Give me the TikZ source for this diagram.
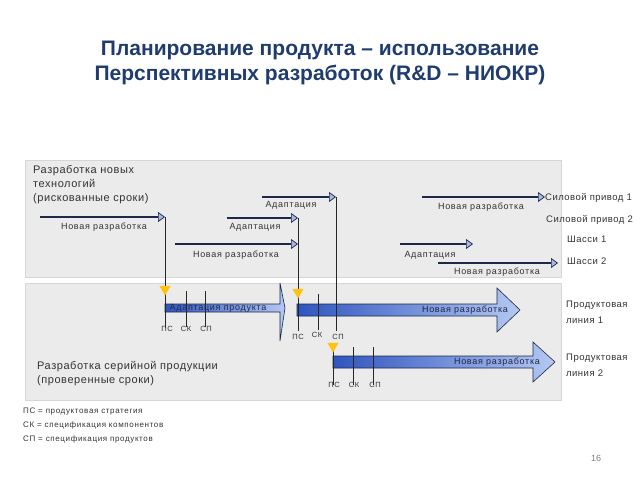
\documentclass[tikz,border=0pt]{standalone}
\usepackage{fontspec}
\setmainfont{Liberation Sans}
\newfontfamily\widefont[LetterSpace=8]{Liberation Sans}
\newfontfamily\sidefont[LetterSpace=5]{Liberation Sans}
\usetikzlibrary{arrows.meta,positioning,shapes}
\definecolor{titleblue}{HTML}{1F3C6E}
\definecolor{panelgray}{HTML}{EBEBEB}
\definecolor{panelline}{HTML}{D6D6D6}
\definecolor{navy}{HTML}{1E2848}
\definecolor{tipblue}{HTML}{A8B8E0}
\definecolor{bardark}{HTML}{2F55C0}
\definecolor{barlight}{HTML}{B4C8F2}
\definecolor{markyellow}{HTML}{FFC20E}

\begin{document}
\begin{tikzpicture}[x=1pt,y=-1pt,
  panel/.style={fill=panelgray,draw=panelline,line width=0.6pt},
  panel text/.style={font=\sidefont\fontsize{11}{14}\selectfont,text=black!80,align=left,anchor=north west,inner sep=0pt},
  dev arrow/.style={draw=navy,line width=2.4pt,-{Triangle[length=7pt,width=10pt,fill=tipblue,line width=0.7pt]}},
  dev label/.style={font=\widefont\fontsize{9}{10}\selectfont,text=black!80,inner sep=0pt},
  side label/.style={font=\sidefont\fontsize{9.5}{16}\selectfont,text=black!80,anchor=west,align=left,inner sep=0pt},
  tick/.style={draw=black!85,line width=1pt},
  tick label/.style={font=\widefont\fontsize{7.5}{8}\selectfont,text=black!80,anchor=north,inner sep=0pt},
  ps mark/.style={regular polygon,regular polygon sides=3,shape border rotate=180,fill=markyellow,minimum size=13pt,inner sep=0pt},
  blue arrow/.style={left color=bardark,right color=barlight,draw=navy,line width=0.6pt},
  bar label/.style={font=\widefont\fontsize{9}{10}\selectfont,text=navy,inner sep=0pt}]
\useasboundingbox (0,0) rectangle (640,480);

% title
\node[font=\fontsize{21}{25}\selectfont\bfseries,text=titleblue,align=center] (title) at (320,63)
  {Планирование продукта – использование\\Перспективных разработок (R\&D – НИОКР)};

% panels
\draw[panel] (25,160) rectangle (561,277);
\draw[panel] (25,283) rectangle (561,400);
\node[panel text] (techtext) at (33,165) {Разработка новых\\технологий\\(рискованные сроки)};
\node[panel text] (serialtext) at (37,361) {Разработка серийной продукции\\(проверенные сроки)};

% development arrows
\coordinate (a1) at (40,217);  \coordinate (a2) at (165,217);
\coordinate (b1) at (262,197); \coordinate (b2) at (336,197);
\coordinate (c1) at (227,218); \coordinate (c2) at (298,218);
\coordinate (d1) at (175,244); \coordinate (d2) at (298,244);
\coordinate (e1) at (422,197); \coordinate (e2) at (545,197);
\coordinate (f1) at (400,244); \coordinate (f2) at (473,244);
\coordinate (g1) at (438,263); \coordinate (g2) at (558,263);
\draw[dev arrow] (a1) -- (a2);
\draw[dev arrow] (b1) -- (b2);
\draw[dev arrow] (c1) -- (c2);
\draw[dev arrow] (d1) -- (d2);
\draw[dev arrow] (e1) -- (e2);
\draw[dev arrow] (f1) -- (f2);
\draw[dev arrow] (g1) -- (g2);
\node[dev label] (la) at (104,227) {Новая разработка};
\node[dev label] (lb) at (291,205) {Адаптация};
\node[dev label] (lc) at (255,227) {Адаптация};
\node[dev label] (ld) at (236,255) {Новая разработка};
\node[dev label] (le) at (481,207) {Новая разработка};
\node[dev label] (lf) at (430,255) {Адаптация};
\node[dev label] (lg) at (497,272) {Новая разработка};

\node[side label] (drive1) at (545,198) {Силовой привод 1};
\node[side label] (drive2) at (546,220) {Силовой привод 2};
\node[side label] (chassis1) at (567,239) {Шасси 1};
\node[side label] (chassis2) at (567,261) {Шасси 2};
\node[side label] (line1) at (566,312) {Продуктовая\\линия 1};
\node[side label] (line2) at (566,365) {Продуктовая\\линия 2};

% product arrows
\shade[blue arrow] (165,304) -- (280,304) -- (280,283) -- (285,308) -- (280,341) -- (280,312) -- (165,312) -- cycle;
\shade[blue arrow] (297,304) -- (497,304) -- (497,288) -- (520,310) -- (497,332) -- (497,316) -- (297,316) -- cycle;
\shade[blue arrow] (333,356) -- (533,356) -- (533,342) -- (555,362) -- (533,382) -- (533,368) -- (333,368) -- cycle;
\node[bar label] (p1) at (218,308) {Адаптация продукта};
\node[bar label] (p2) at (465,310) {Новая разработка};
\node[bar label] (p3) at (497,362) {Новая разработка};

% milestones
\coordinate (ps1) at (165,328); \coordinate (sk1a) at (186,291); \coordinate (sk1) at (186,327);
\coordinate (sp1a) at (205,291); \coordinate (sp1) at (205,327);
\coordinate (ps2) at (298,331); \coordinate (sk2a) at (318,294); \coordinate (sk2) at (318,330);
\coordinate (sp2) at (336,331);
\coordinate (ps3a) at (333,347); \coordinate (ps3) at (333,385);
\coordinate (sk3a) at (353,347); \coordinate (sk3) at (353,385);
\coordinate (sp3a) at (373,347); \coordinate (sp3) at (373,385);
\draw[tick] (a2) -- (ps1);
\draw[tick] (sk1a) -- (sk1);
\draw[tick] (sp1a) -- (sp1);
\draw[tick] (c2) -- (ps2);
\draw[tick] (sk2a) -- (sk2);
\draw[tick] (b2) -- (sp2);
\draw[tick] (ps3a) -- (ps3);
\draw[tick] (sk3a) -- (sk3);
\draw[tick] (sp3a) -- (sp3);
\node[ps mark] (m1) at (165,289) {};
\node[ps mark] (m2) at (298,292) {};
\node[ps mark] (m3) at (333,346) {};

\node[tick label] (tps1) at (167,326) {ПС};
\node[tick label] (tsk1) at (186,326) {СК};
\node[tick label] (tsp1) at (206,326) {СП};
\node[tick label] (tps2) at (298,334) {ПС};
\node[tick label] (tsk2) at (317,332) {СК};
\node[tick label] (tsp2) at (338,334) {СП};
\node[tick label] (tps3) at (334,382) {ПС};
\node[tick label] (tsk3) at (354,382) {СК};
\node[tick label] (tsp3) at (375,382) {СП};

% legend
\node[font=\widefont\fontsize{8}{14}\selectfont,text=black!80,align=left,anchor=north west,inner sep=0pt] (legend) at (23,408)
  {ПС = продуктовая стратегия\\СК = спецификация компонентов\\СП = спецификация продуктов};
\node[font=\fontsize{9}{10}\selectfont,text=black!50] (page) at (596,458) {16};
\end{tikzpicture}
\end{document}
